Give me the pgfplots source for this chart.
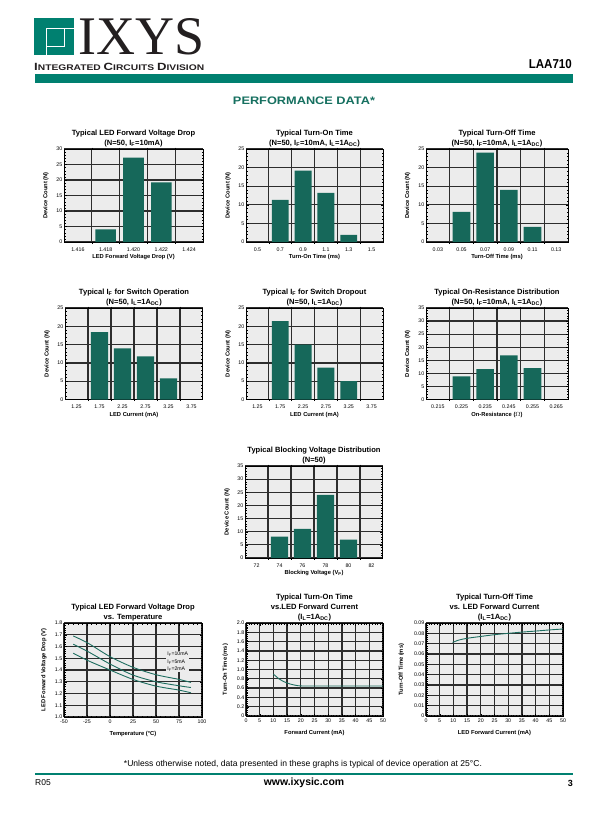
\documentclass[border=0pt]{standalone}
\usepackage{fontspec}
\setmainfont{Liberation Sans}
\newfontfamily\serifIX{Liberation Serif}
\usepackage{pgfplots}
\pgfplotsset{compat=1.18}
\usetikzlibrary{calc}
\definecolor{teal1}{RGB}{0,128,112}
\definecolor{teal2}{RGB}{22,112,96}
\definecolor{barc}{RGB}{22,104,90}
\definecolor{linec}{RGB}{30,110,96}
\definecolor{bgc}{RGB}{236,236,236}
\definecolor{gridc}{RGB}{45,45,45}
\definecolor{logok}{RGB}{35,31,32}
\pgfplotsset{
 ds/.style={
  scale only axis, anchor=north west,
  axis background/.style={fill=bgc},
  axis line style={line width=1pt, black},
  /pgf/number format/assume math mode=true,
  scaled y ticks=false, scaled x ticks=false,
  tick label style={font=\fontsize{5.3}{6}\selectfont, inner sep=1.5bp},
  label style={font=\bfseries\fontsize{5.8}{6}\selectfont},
  title style={font=\bfseries\fontsize{7.6}{10}\selectfont, align=center, at={(axis description cs:0.5,1)}, anchor=south, yshift=-7.5bp},
  major grid style={gridc, line width=1.25pt},
  minor grid style={gridc, line width=1.25pt},
  tick style={black, line width=0.4pt},
  minor tick length=1.5bp, major tick length=2.5bp,
  tick align=inside,
 },
 ylabpos/.style={ylabel style={at={(axis description cs:#1,0.5)},anchor=center}},
 xlabpos/.style={xlabel style={at={(axis description cs:0.5,#1)},anchor=center}},
 barax/.style={ds, ybar, bar width=0.74, ymin=0, xmin=-0.5, xmax=5.5,
  xtick={0,1,2,3,4,5}, minor xtick={0.5,1.5,2.5,3.5,4.5},
  xmajorgrids=false, xminorgrids=true, ymajorgrids=true,
  minor y tick num=4, major x tick style={draw=none},
  xticklabel style={yshift=-1.5bp}},
 lineax/.style={ds, xmajorgrids=true, ymajorgrids=true, minor x tick num=4, minor y tick num=4,
  xticklabel style={yshift=-1.5bp}},
}
\begin{document}
\begin{tikzpicture}
\useasboundingbox (0,0) rectangle (608bp,-822bp);
\fill[white] (0,0) rectangle (608bp,-822bp);
% ---------- header ----------
\fill[teal1] (34bp,-18bp) rectangle (74bp,-55bp);
\draw[white, line width=1bp] (46bp,-55bp) -- (46bp,-28bp) -- (74bp,-28bp);
\draw[white, line width=1bp] (46bp,-46bp) -- (64bp,-46bp) -- (64bp,-28bp);
\node[anchor=south west, inner sep=0, text=logok] at (78bp,-55bp) {\resizebox{126bp}{36bp}{\serifIX IXYS}};
\node[anchor=base west, inner sep=0, text=logok] at (34bp,-70.5bp) {\resizebox{170bp}{7.3bp}{\bfseries{\fontsize{10}{10}\selectfont I}{\fontsize{7.8}{8}\selectfont NTEGRATED }{\fontsize{10}{10}\selectfont C}{\fontsize{7.8}{8}\selectfont IRCUITS }{\fontsize{10}{10}\selectfont D}{\fontsize{7.8}{8}\selectfont IVISION}}};
\node[anchor=base east, inner sep=0] at (572bp,-68.3bp) {\resizebox{43bp}{9bp}{\bfseries LAA710}};
\fill[teal1] (35bp,-74bp) rectangle (573bp,-82.7bp);
\node[text=teal2, inner sep=0] at (304bp,-100.5bp) {\resizebox{142bp}{7.6bp}{\bfseries PERFORMANCE DATA*}};
% ---------- footer ----------
\node[inner sep=0] at (303bp,-764bp) {\resizebox{358bp}{!}{\fontsize{6.5}{7}\selectfont *Unless otherwise noted, data presented in these graphs is typical of device operation at 25°C.}};
\fill[teal1] (35bp,-772.7bp) rectangle (573bp,-774.7bp);
\node[anchor=west, inner sep=0] at (35bp,-783bp) {\fontsize{8.5}{9}\selectfont R05};
\node[inner sep=0] at (304bp,-783bp) {\bfseries\fontsize{10.5}{11}\selectfont www.ixysic.com};
\node[anchor=east, inner sep=0] at (573bp,-783bp) {\bfseries\fontsize{9}{9}\selectfont 3};

% ---------- C1 ----------
\begin{axis}[barax, at={(64bp,-149bp)}, width=139bp, height=93bp,
  xmax=4.5, xtick={0,1,2,3,4}, minor xtick={0.5,1.5,2.5,3.5},
  xticklabels={1.416,1.418,1.420,1.422,1.424},
  ymax=30, ytick={0,5,...,30},
  title={Typical LED Forward Voltage Drop\\(N=50, I\textsubscript{F}=10mA)},
  xlabel={LED Forward Voltage Drop (V)}, ylabel={Device Count (N)},
  ylabpos=-0.13, xlabpos=-0.165]
\addplot[fill=barc, draw=none] coordinates {(1,4.1) (2,27.2) (3,19.2)};
\end{axis}
% ---------- C2 ----------
\begin{axis}[barax, at={(246bp,-149bp)}, width=137bp, height=93bp,
  xticklabels={0.5,0.7,0.9,1.1,1.3,1.5},
  ymax=25, ytick={0,5,...,25},
  title={Typical Turn-On Time\\(N=50, I\textsubscript{F}=10mA, I\textsubscript{L}=1A\textsubscript{DC})},
  xlabel={Turn-On Time (ms)}, ylabel={Device Count (N)},
  ylabpos=-0.13, xlabpos=-0.165]
\addplot[fill=barc, draw=none] coordinates {(1,11.3) (2,19.2) (3,13.2) (4,1.9)};
\end{axis}
% ---------- C3 ----------
\begin{axis}[barax, at={(426bp,-149bp)}, width=142bp, height=93bp,
  xticklabels={0.03,0.05,0.07,0.09,0.11,0.13},
  ymax=25, ytick={0,5,...,25},
  title={Typical Turn-Off Time\\(N=50, I\textsubscript{F}=10mA, I\textsubscript{L}=1A\textsubscript{DC})},
  xlabel={Turn-Off Time (ms)}, ylabel={Device Count (N)},
  ylabpos=-0.13, xlabpos=-0.165]
\addplot[fill=barc, draw=none] coordinates {(1,8.1) (2,24.0) (3,14.0) (4,4.05)};
\end{axis}
% ---------- C4 ----------
\begin{axis}[barax, at={(65bp,-308bp)}, width=138bp, height=91.5bp,
  xticklabels={1.25,1.75,2.25,2.75,3.25,3.75},
  ymax=25, ytick={0,5,...,25},
  title={Typical I\textsubscript{F} for Switch Operation\\(N=50, I\textsubscript{L}=1A\textsubscript{DC})},
  xlabel={LED Current (mA)}, ylabel={Device Count (N)},
  ylabpos=-0.13, xlabpos=-0.165]
\addplot[fill=barc, draw=none] coordinates {(1,18.4) (2,14.0) (3,11.8) (4,5.8)};
\end{axis}
% ---------- C5 ----------
\begin{axis}[barax, at={(246bp,-308bp)}, width=137bp, height=91.5bp,
  xticklabels={1.25,1.75,2.25,2.75,3.25,3.75},
  ymax=25, ytick={0,5,...,25},
  title={Typical I\textsubscript{F} for Switch Dropout\\(N=50, I\textsubscript{L}=1A\textsubscript{DC})},
  xlabel={LED Current (mA)}, ylabel={Device Count (N)},
  ylabpos=-0.13, xlabpos=-0.165]
\addplot[fill=barc, draw=none] coordinates {(1,21.4) (2,15.0) (3,8.7) (4,5.0)};
\end{axis}
% ---------- C6 ----------
\begin{axis}[barax, at={(426bp,-308bp)}, width=142bp, height=91.5bp,
  xticklabels={0.215,0.225,0.235,0.245,0.255,0.265},
  ymax=35, ytick={0,5,...,35},
  title={Typical On-Resistance Distribution\\(N=50, I\textsubscript{F}=10mA, I\textsubscript{L}=1A\textsubscript{DC})},
  xlabel={On-Resistance ($\Omega$)}, ylabel={Device Count (N)},
  ylabpos=-0.13, xlabpos=-0.165]
\addplot[fill=barc, draw=none] coordinates {(1,8.8) (2,11.6) (3,16.9) (4,12.0)};
\end{axis}
% ---------- C7 ----------
\begin{axis}[barax, at={(245bp,-466bp)}, width=138bp, height=92bp,
  xticklabels={72,74,76,78,80,82},
  ymax=35, ytick={0,5,...,35},
  title={Typical Blocking Voltage Distribution\\(N=50)},
  xlabel={Blocking Voltage (V\textsubscript{P})}, ylabel={Device Count (N)},
  ylabpos=-0.13, xlabpos=-0.165]
\addplot[fill=barc, draw=none] coordinates {(1,8.1) (2,11.1) (3,24.0) (4,7.0)};
\end{axis}
% ---------- C8 ----------
\begin{axis}[lineax, at={(64bp,-623bp)}, width=138bp, height=94bp,
  xmin=-50, xmax=100, xtick={-50,-25,0,25,50,75,100},
  xticklabels={-50,-25,0,25,50,75,100},
  ymin=1.0, ymax=1.8, ytick={1.0,1.1,1.2,1.3,1.4,1.5,1.6,1.7,1.8},
  yticklabels={1.0,1.1,1.2,1.3,1.4,1.5,1.6,1.7,1.8},
  title={Typical LED Forward Voltage Drop\\vs. Temperature},
  xlabel={Temperature (°C)}, ylabel={LED Forward Voltage Drop (V)},
  ylabpos=-0.145, xlabpos=-0.18]
\addplot[linec, line width=0.9pt, smooth] coordinates {(-40,1.69) (-24,1.629) (0,1.514) (25,1.423) (50,1.36) (75,1.32) (88,1.294)};
\addplot[linec, line width=0.9pt, smooth] coordinates {(-40,1.62) (-24,1.557) (0,1.451) (25,1.357) (50,1.30) (75,1.266) (88,1.251)};
\addplot[linec, line width=0.9pt, smooth] coordinates {(-40,1.543) (-24,1.48) (0,1.40) (25,1.32) (50,1.263) (75,1.229) (88,1.206)};
\node[fill=bgc, inner sep=1bp, align=left, font=\fontsize{5.2}{7.3}\selectfont] at (axis cs:73.6,1.469) {I\textsubscript{F}=10mA\\I\textsubscript{F}=5mA\\I\textsubscript{F}=2mA};
\end{axis}
% ---------- C9 ----------
\begin{axis}[lineax, at={(246bp,-623bp)}, width=137bp, height=93bp,
  xmin=0, xmax=50, xtick={0,5,...,50},
  xticklabels={0,5,10,15,20,25,30,35,40,45,50},
  ymin=0, ymax=2, ytick={0,0.2,...,2.0},
  yticklabels={0,0.2,0.4,0.6,0.8,1.0,1.2,1.4,1.6,1.8,2.0},
  title={Typical Turn-On Time\\vs.LED Forward Current\\(I\textsubscript{L}=1A\textsubscript{DC})},
  xlabel={Forward Current (mA)}, ylabel={Turn-On Time (ms)},
  ylabpos=-0.15, xlabpos=-0.18]
\addplot[linec, line width=0.9pt, smooth] coordinates {(10,0.9) (11,0.85) (12,0.8) (13,0.765) (14,0.735) (15,0.71) (16,0.69) (17,0.675) (18,0.662) (19,0.652) (20,0.647) (22,0.645) (30,0.645) (50,0.645)};
\end{axis}
% ---------- C10 ----------
\begin{axis}[lineax, at={(426bp,-623bp)}, width=137bp, height=93bp,
  xmin=0, xmax=50, xtick={0,5,...,50},
  xticklabels={0,5,10,15,20,25,30,35,40,45,50},
  ymin=0, ymax=0.09, ytick={0,0.01,...,0.09},
  yticklabels={0,0.01,0.02,0.03,0.04,0.05,0.06,0.07,0.08,0.09},
  title={Typical Turn-Off Time\\vs. LED Forward Current\\(I\textsubscript{L}=1A\textsubscript{DC})},
  xlabel={LED Forward Current (mA)}, ylabel={Turn-Off Time (ms)},
  ylabpos=-0.18, xlabpos=-0.18]
\addplot[linec, line width=0.9pt, smooth] coordinates {(9.7,0.0712) (12,0.0735) (15,0.0752) (20,0.0770) (25,0.0787) (30,0.0800) (35,0.0812) (40,0.0822) (45,0.0833) (50,0.0842)};
\end{axis}
\end{tikzpicture}
\end{document}
